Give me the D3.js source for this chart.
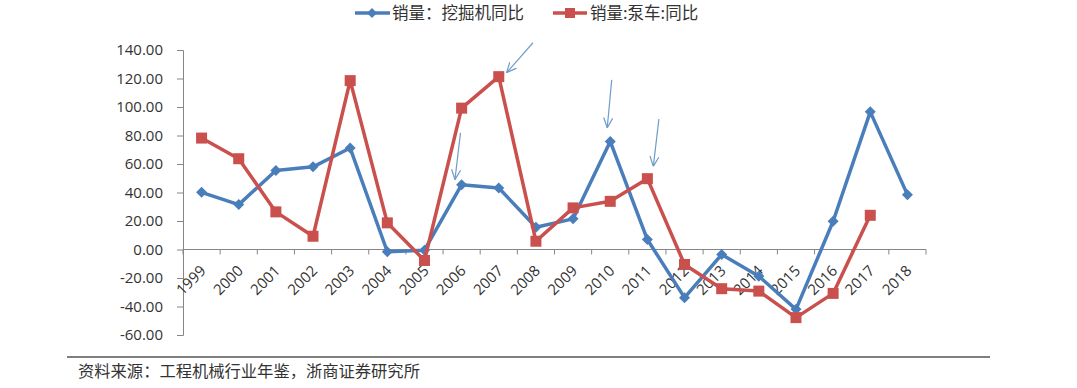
<!DOCTYPE html>
<html><head><meta charset="utf-8">
<script src="https://cdn.jsdelivr.net/npm/d3@7"></script>
<style>body{margin:0;background:#fff}svg{display:block}</style>
</head><body><svg id="c" width="1077" height="388"></svg>
<script>
const years = ["1999","2000","2001","2002","2003","2004","2005","2006","2007","2008","2009","2010","2011","2012","2013","2014","2015","2016","2017","2018"];
const excavatorYoY = [40.1,31.5,55.5,58.0,71.2,-1.6,-0.5,45.5,43.2,15.6,21.5,75.8,7.0,-33.8,-3.5,-18.7,-42.0,19.8,96.6,38.5];
const pumpTruckYoY = [78.2,63.7,26.4,9.3,118.5,18.7,-7.7,99.2,121.3,5.8,29.2,33.8,49.7,-10.5,-27.5,-29.2,-47.8,-30.8,24.0,null];
const yTicks = [140,120,100,80,60,40,20,0,-20,-40,-60];
const seriesNames = ["销量：挖掘机同比","销量:泵车:同比"];
const sourceNote = "资料来源：工程机械行业年鉴，浙商证券研究所";
// annotation arrows in data units (fractional year, value)
const arrowFromYear = [2005.97, 2007.92, 2010.04, 2011.31];
const arrowFromValue = [81.9, 145.1, 119.0, 91.5];
const arrowToYear = [2005.82, 2007.21, 2009.92, 2011.16];
const arrowToValue = [49.0, 124.1, 85.4, 58.3];

const BLUE = "#4A7EBB", RED = "#C9504D", AXIS = "#868686", TXT = "#333";
const svg = d3.select("#c");
svg.append("rect").attr("width",1077).attr("height",388).attr("fill","#fff");

const x = d3.scaleBand().domain(years).range([183, 926]);
const bw = x.bandwidth();
const cx = d => x(d) + bw/2;
const xNum = d3.scaleLinear().domain([1999, 2018]).range([cx("1999"), cx("2018")]);
const y = d3.scaleLinear().domain([-60, 140]).range([335, 50]);

// y axis
const yAxis = svg.append("g").attr("transform","translate(183,0)")
  .call(d3.axisLeft(y).tickValues(yTicks).tickFormat(d => d.toFixed(2)).tickSize(6).tickPadding(14));
yAxis.select(".domain").attr("stroke", AXIS);
yAxis.selectAll(".tick line").attr("stroke", AXIS);
yAxis.selectAll(".tick text").attr("fill", TXT).style("font-family","'Open Sans',sans-serif").style("font-size","15px");

// x axis at zero
const xg = svg.append("g");
xg.append("line").attr("x1",183).attr("x2",926).attr("y1",y(0)).attr("y2",y(0)).attr("stroke",AXIS);
xg.selectAll("line.t").data(d3.range(years.length+1)).join("line").attr("class","t")
  .attr("x1", i => 183 + i*bw).attr("x2", i => 183 + i*bw)
  .attr("y1", y(0)).attr("y2", y(0)+5).attr("stroke", AXIS);
xg.selectAll("text").data(years).join("text")
  .attr("transform", d => `translate(${cx(d)+1},${y(0)+18}) rotate(-45)`)
  .attr("text-anchor","end").attr("dominant-baseline","central")
  .attr("fill", TXT).style("font-family","'Open Sans',sans-serif").style("font-size","15px")
  .text(d => d);

// series
const line = vals => d3.line().defined(d => d[1] !== null).x(d => cx(d[0])).y(d => y(d[1]))(years.map((yr,i)=>[yr, vals[i]]));
svg.append("path").attr("d", line(excavatorYoY)).attr("fill","none").attr("stroke",BLUE).attr("stroke-width",3.5).attr("stroke-linejoin","round");
svg.selectAll("path.dm").data(years.map((yr,i)=>[yr, excavatorYoY[i]]).filter(d=>d[1]!==null)).join("path").attr("class","dm")
  .attr("d","M0,-5.5L5.5,0L0,5.5L-5.5,0Z").attr("transform", d => `translate(${cx(d[0])},${y(d[1])})`).attr("fill",BLUE);
svg.append("path").attr("d", line(pumpTruckYoY)).attr("fill","none").attr("stroke",RED).attr("stroke-width",3.5).attr("stroke-linejoin","round");
svg.selectAll("rect.sq").data(years.map((yr,i)=>[yr, pumpTruckYoY[i]]).filter(d=>d[1]!==null)).join("rect").attr("class","sq")
  .attr("x", d => cx(d[0]) - 5.5).attr("y", d => y(d[1]) - 5.5).attr("width",11).attr("height",11).attr("fill",RED);

// arrows
const defs = svg.append("defs");
defs.append("marker").attr("id","ah").attr("viewBox","0 0 10 10").attr("refX",10).attr("refY",5)
  .attr("markerWidth",10).attr("markerHeight",10).attr("markerUnits","userSpaceOnUse").attr("orient","auto")
  .append("path").attr("d","M0,0.5L10,5L0,9.5").attr("fill","none").attr("stroke","#6f9cc9").attr("stroke-width",1.2);
svg.selectAll("line.ar").data(d3.range(arrowFromYear.length)).join("line").attr("class","ar")
  .attr("x1", i => xNum(arrowFromYear[i])).attr("y1", i => y(arrowFromValue[i]))
  .attr("x2", i => xNum(arrowToYear[i])).attr("y2", i => y(arrowToValue[i]))
  .attr("stroke","#6f9cc9").attr("stroke-width",1.2).attr("marker-end","url(#ah)");

// legend
const lg = svg.append("g").style("font-family","'Noto Sans CJK SC',sans-serif").style("font-size","16.5px");
lg.append("line").attr("x1",355).attr("x2",390).attr("y1",13).attr("y2",13).attr("stroke",BLUE).attr("stroke-width",3.5);
lg.append("path").attr("d","M0,-5L5,0L0,5L-5,0Z").attr("transform","translate(372,13)").attr("fill",BLUE);
lg.append("text").attr("x",392).attr("y",19).attr("fill",TXT).text(seriesNames[0]);
lg.append("line").attr("x1",553).attr("x2",587).attr("y1",13).attr("y2",13).attr("stroke",RED).attr("stroke-width",3.5);
lg.append("rect").attr("x",565).attr("y",8).attr("width",10).attr("height",10).attr("fill",RED);
lg.append("text").attr("x",590).attr("y",19).attr("fill",TXT).text(seriesNames[1]);

// source
svg.append("line").attr("x1",67).attr("x2",990).attr("y1",357).attr("y2",357).attr("stroke","#555").attr("stroke-width",1.5);
svg.append("text").attr("x",78).attr("y",377).attr("fill",TXT)
  .style("font-family","'Noto Sans CJK SC',sans-serif").style("font-size","16.3px").text(sourceNote);
</script></body></html>
